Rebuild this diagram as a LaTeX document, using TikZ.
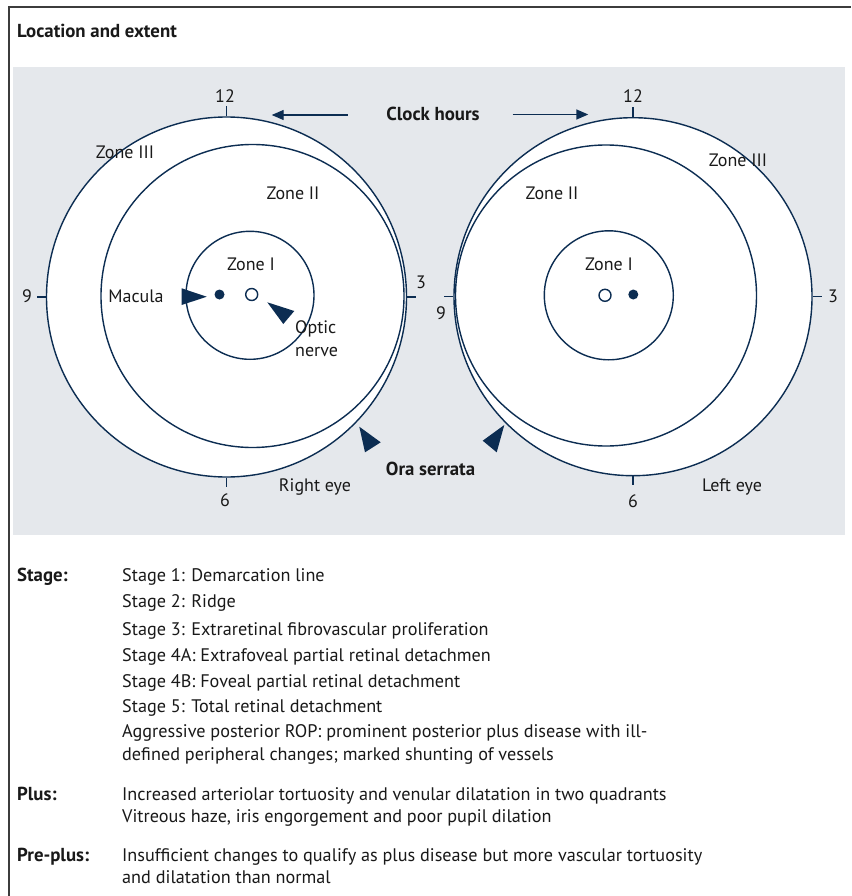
\documentclass[tikz,border=0pt]{standalone}
\usepackage{fontspec}
\setmainfont{PT Sans}
\usetikzlibrary{arrows.meta}
\definecolor{navy}{RGB}{12,45,82}
\definecolor{panel}{RGB}{229,232,236}
\definecolor{framec}{RGB}{60,60,60}
\definecolor{ink}{RGB}{25,25,25}
\begin{document}
\begin{tikzpicture}[x=1pt,y=-1pt,
  ring/.style={circle,draw=navy,line width=1.4pt,fill=white,inner sep=0pt},
  lbl/.style={font=\fontsize{18}{21}\selectfont,text=ink,inner sep=0pt,anchor=base},
  blbl/.style={lbl,font=\fontsize{18.8}{21}\selectfont\bfseries},
  txt/.style={font=\fontsize{18.2}{21}\selectfont,text=ink,inner sep=0pt,anchor=base west},
  btxt/.style={txt,font=\fontsize{18.8}{21}\selectfont\bfseries},
  tick/.style={draw=navy,line width=1.4pt},
  pointer/.style={fill=navy},
  clockarrow/.style={draw=navy,line width=1.4pt,-{Triangle[length=12pt,width=10pt]}}
]
\useasboundingbox (0,0) rectangle (851,896);
\fill[white] (0,0) rectangle (851,896);
% frame
\draw[framec,line width=1.3pt] (9,896) -- (9,7) -- (851,7);
\node[btxt] (title) at (17,37.5) {Location and extent};
% panel
\fill[panel] (13,67) rectangle (845,535);

% ---------- Right eye (left panel) ----------
\node[ring,minimum size=360pt] (R3) at (226.5,297) {};
\node[ring,minimum size=303pt] (R2) at (252.5,296) {};
\node[ring,minimum size=128pt] (R1) at (250,295.3) {};
\node[circle,fill=navy,inner sep=0pt,minimum size=10pt] (Rmac) at (219.5,294.5) {};
\node[circle,draw=navy,line width=1.4pt,fill=white,inner sep=0pt,minimum size=12pt] (Ron) at (251.7,294.5) {};
\draw[tick] (R3.north) -- ++(0,-10);
\draw[tick] (R3.south) -- ++(0,9);
\draw[tick] (R3.west) -- ++(-9,0);
\draw[tick] (R3.east) -- ++(9,0);
\node[lbl] (R12) at (225,103) {12};
\node[lbl] (R9) at (27,302) {9};
\node[lbl] (Rthree) at (421,288) {3};
\node[lbl] (R6) at (225,506) {6};
\node[lbl] (RZ3) at (125,159) {Zone III};
\node[lbl] (RZ2) at (293,199) {Zone II};
\node[lbl] (RZ1) at (251,270) {Zone I};
\node[lbl] (Rmacl) at (136,302) {Macula};
\node[lbl,anchor=base west] (Ropt) at (295,333) {Optic};
\node[lbl,anchor=base west] (Rnerve) at (295,356) {nerve};
\node[lbl] (Reye) at (315,491) {Right eye};
\fill[pointer] (181.7,288.3) -- (206.7,296.7) -- (181.7,305) -- cycle;
\fill[pointer] (267.3,302.3) -- (294.3,311) -- (283.3,324) -- cycle;
\fill[pointer] (359.3,426.7) -- (380.7,442.3) -- (365,452.3) -- cycle;

% ---------- Left eye (right panel) ----------
\node[ring,minimum size=358pt] (L3) at (633,296.7) {};
\node[ring,minimum size=301pt] (L2) at (606,295.5) {};
\node[ring,minimum size=129pt] (L1) at (608.8,295.3) {};
\node[circle,draw=navy,line width=1.4pt,fill=white,inner sep=0pt,minimum size=12pt] (Lon) at (605,295.3) {};
\node[circle,fill=navy,inner sep=0pt,minimum size=10pt] (Lmac) at (633.3,294.5) {};
\draw[tick] (L3.north) -- ++(0,-10);
\draw[tick] (L3.south) -- ++(0,9);
\draw[tick] (L3.west) -- ++(-9,0);
\draw[tick] (L3.east) -- ++(9,0);
\node[lbl] (L12) at (633,103) {12};
\node[lbl] (L9) at (441,319) {9};
\node[lbl] (Lthree) at (833,302) {3};
\node[lbl] (L6) at (633,507) {6};
\node[lbl] (LZ3) at (738,167) {Zone III};
\node[lbl] (LZ2) at (552,199) {Zone II};
\node[lbl] (LZ1) at (609,270) {Zone I};
\node[lbl] (Leye) at (732,491) {Left eye};
\fill[pointer] (504.3,425) -- (496.7,452.3) -- (482.7,440.7) -- cycle;

% ---------- centre labels ----------
\node[blbl] (clock) at (433,121) {Clock hours};
\coordinate (cLs) at (347.7,115);
\coordinate (cLe) at (271.7,115);
\coordinate (cRs) at (512.7,114.5);
\coordinate (cRe) at (588.3,114.5);
\draw[clockarrow] (cLs) -- (cLe);
\draw[clockarrow] (cRs) -- (cRe);
\node[blbl] (ora) at (430.5,475) {Ora serrata};

% ---------- text ----------
\node[btxt] (hStage) at (17,581.7) {Stage:};
\node[txt] (s1) at (122,581.7) {Stage 1: Demarcation line};
\node[txt] (s2) at (122,607) {Stage 2: Ridge};
\node[txt] (s3) at (122,635) {Stage 3: Extraretinal fibrovascular proliferation};
\node[txt] (s4a) at (122,661) {Stage 4A: Extrafoveal partial retinal detachmen};
\node[txt] (s4b) at (122,687) {Stage 4B: Foveal partial retinal detachment};
\node[txt] (s5) at (122,712.7) {Stage 5: Total retinal detachment};
\node[txt] (ap1) at (122,737.7) {Aggressive posterior ROP: prominent posterior plus disease with ill-};
\node[txt] (ap2) at (122,760.3) {defined peripheral changes; marked shunting of vessels};
\node[btxt] (hPlus) at (17,800.3) {Plus:};
\node[txt] (p1) at (122,800.3) {Increased arteriolar tortuosity and venular dilatation in two quadrants};
\node[txt] (p2) at (122,822.7) {Vitreous haze, iris engorgement and poor pupil dilation};
\node[btxt] (hPre) at (17,861) {Pre-plus:};
\node[txt] (pp1) at (122,861) {Insufficient changes to qualify as plus disease but more vascular tortuosity};
\node[txt] (pp2) at (122,883.7) {and dilatation than normal};
\end{tikzpicture}
\end{document}
